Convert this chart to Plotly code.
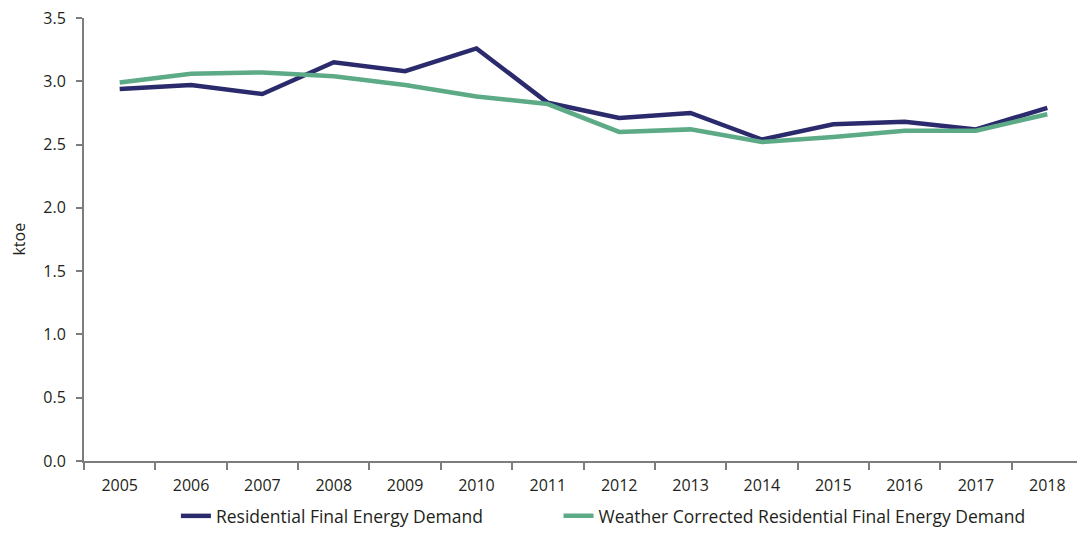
import plotly.graph_objects as go

years = ["2005", "2006", "2007", "2008", "2009", "2010", "2011",
         "2012", "2013", "2014", "2015", "2016", "2017", "2018"]
residential = [2.94, 2.97, 2.90, 3.15, 3.08, 3.26, 2.83,
               2.71, 2.75, 2.54, 2.66, 2.68, 2.62, 2.79]
weather_corrected = [2.99, 3.06, 3.07, 3.04, 2.97, 2.88, 2.82,
                     2.60, 2.62, 2.52, 2.56, 2.61, 2.61, 2.74]
y_ticks = [0.0, 0.5, 1.0, 1.5, 2.0, 2.5, 3.0, 3.5]
y_tick_labels = ["0.0", "0.5", "1.0", "1.5", "2.0", "2.5", "3.0", "3.5"]

FONT = "Open Sans"
TXT = "#231f20"
AX = "#7d7d7d"

fig = go.Figure()
fig.add_trace(go.Scatter(
    x=years, y=residential, mode="lines",
    name="Residential Final Energy Demand",
    line=dict(color="#2a2a6c", width=4.5),
    legend="legend",
))
fig.add_trace(go.Scatter(
    x=years, y=weather_corrected, mode="lines",
    name="Weather Corrected Residential Final Energy Demand",
    line=dict(color="#5caa86", width=4.5),
    legend="legend2",
))

legend_font = dict(family=FONT, size=17.5, color=TXT)

# page body has an 8px margin, so the figure is sized/offset to compensate
fig.update_layout(
    width=1077, height=526,
    margin=dict(l=76, r=2, t=10, b=73, autoexpand=False),
    paper_bgcolor="white", plot_bgcolor="white",
    font=dict(family=FONT, size=16, color=TXT),
    showlegend=True,
    legend=dict(
        orientation="h", x=0.092, xanchor="left", y=-0.0835, yanchor="top",
        font=legend_font, bgcolor="rgba(0,0,0,0)",
    ),
    legend2=dict(
        orientation="h", x=0.475, xanchor="left", y=-0.0835, yanchor="top",
        font=legend_font, bgcolor="rgba(0,0,0,0)",
    ),
    xaxis=dict(
        type="category", showgrid=False, zeroline=False, automargin=False,
        showline=True, linecolor=AX, linewidth=2,
        ticks="outside", tickson="boundaries", ticklen=7, tickcolor=AX, tickwidth=1.5,
        tickfont=dict(family=FONT, size=16, color=TXT), ticklabelstandoff=9,
        ticklabeloverflow="allow",
        range=[-0.5, 13.5],
    ),
    yaxis=dict(
        range=[0, 3.5], tickvals=y_ticks, ticktext=y_tick_labels,
        showgrid=False, zeroline=False, automargin=False,
        showline=True, linecolor=AX, linewidth=2,
        ticks="outside", ticklen=6, tickcolor=AX, tickwidth=1.5,
        tickfont=dict(family=FONT, size=16, color=TXT), ticklabelstandoff=7,
        ticklabeloverflow="allow",
    ),
    annotations=[dict(
        text="ktoe", xref="paper", yref="paper", x=-0.066, y=0.5,
        xanchor="center", yanchor="middle", textangle=-90, showarrow=False,
        font=dict(family=FONT, size=16, color=TXT),
    )],
)

fig.write_html("out.html")
